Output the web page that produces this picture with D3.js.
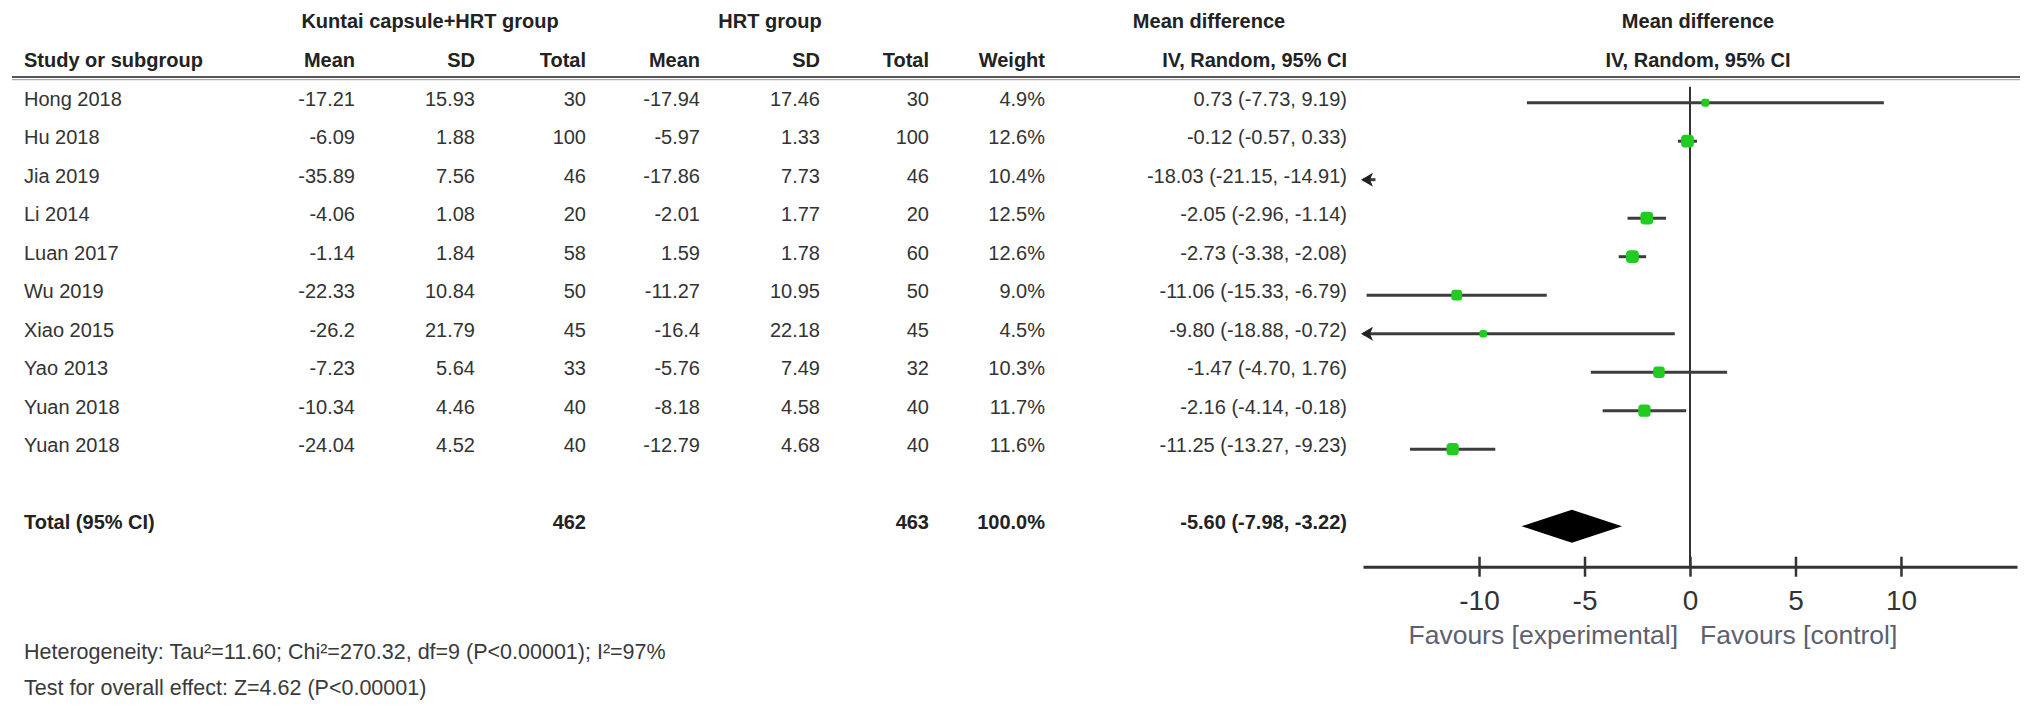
<!DOCTYPE html>
<html>
<head>
<meta charset="utf-8">
<script src="https://cdn.jsdelivr.net/npm/d3@7"></script>
<style>
  html, body { margin: 0; padding: 0; background: #ffffff; }
  svg { display: block; }
  text { font-family: "Liberation Sans", Arial, sans-serif; }
</style>
</head>
<body>
<svg id="chart" width="2032" height="713"></svg>
<script>
// ---------------- data ----------------
const studies   = ["Hong 2018","Hu 2018","Jia 2019","Li 2014","Luan 2017","Wu 2019","Xiao 2015","Yao 2013","Yuan 2018","Yuan 2018"];
const expMean   = [-17.21,-6.09,-35.89,-4.06,-1.14,-22.33,-26.2,-7.23,-10.34,-24.04];
const expSD     = [15.93,1.88,7.56,1.08,1.84,10.84,21.79,5.64,4.46,4.52];
const expTotal  = [30,100,46,20,58,50,45,33,40,40];
const ctlMean   = [-17.94,-5.97,-17.86,-2.01,1.59,-11.27,-16.4,-5.76,-8.18,-12.79];
const ctlSD     = [17.46,1.33,7.73,1.77,1.78,10.95,22.18,7.49,4.58,4.68];
const ctlTotal  = [30,100,46,20,60,50,45,32,40,40];
const weights   = [4.9,12.6,10.4,12.5,12.6,9.0,4.5,10.3,11.7,11.6];
const md        = [0.73,-0.12,-18.03,-2.05,-2.73,-11.06,-9.80,-1.47,-2.16,-11.25];
const ciLow     = [-7.73,-0.57,-21.15,-2.96,-3.38,-15.33,-18.88,-4.70,-4.14,-13.27];
const ciHigh    = [9.19,0.33,-14.91,-1.14,-2.08,-6.79,-0.72,1.76,-0.18,-9.23];
const totalLabel = "Total (95% CI)";
const totalExp = 462, totalCtl = 463, totalWeight = 100.0;
const totalMD = -5.60, totalLow = -7.98, totalHigh = -3.22;
const tickValues = [-10,-5,0,5,10];
const xDomain = [-15.5, 15.5];
const groupHeaders = ["Kuntai capsule+HRT group","HRT group","Mean difference","Mean difference"];
const colHeaders = ["Mean","SD","Total","Mean","SD","Total","Weight","IV, Random, 95% CI"];
const favours = ["Favours [experimental]","Favours [control]"];
const footer = ["Heterogeneity: Tau\u00b2=11.60; Chi\u00b2=270.32, df=9 (P<0.00001); I\u00b2=97%",
                "Test for overall effect: Z=4.62 (P<0.00001)"];

// ---------------- layout ----------------
const svg = d3.select("#chart");
const TXT = "#333333";
const colRight = [355, 475, 586, 700, 820, 929, 1045, 1347];
const studyX = 24;
const fs = 20;

const x = d3.scaleLinear().domain(xDomain).range([1363, 2017]);
const y = d3.scaleLinear().domain([0, 11]).range([102.7, 526.2]);
const axisY = 566.7;
const textOff = 3;

// group headers
const groupCenters = [430, 770, 1209, 1698];
svg.selectAll("text.gh").data(groupHeaders).join("text")
  .attr("class","gh")
  .attr("x",(d,i)=>groupCenters[i]).attr("y",28)
  .attr("text-anchor","middle").attr("font-weight","bold")
  .attr("font-size",fs).attr("fill","#222").text(d=>d);

// column headers
svg.append("text").attr("x",studyX).attr("y",67).attr("font-weight","bold")
  .attr("font-size",fs).attr("fill","#222").text("Study or subgroup");
svg.selectAll("text.ch").data(colHeaders).join("text")
  .attr("class","ch")
  .attr("x",(d,i)=>colRight[i]).attr("y",67)
  .attr("text-anchor","end").attr("font-weight","bold")
  .attr("font-size",fs).attr("fill","#222").text(d=>d);
svg.append("text").attr("x",1698).attr("y",67).attr("text-anchor","middle")
  .attr("font-weight","bold").attr("font-size",fs).attr("fill","#222")
  .text(colHeaders[7]);

// header rule (double)
svg.append("line").attr("x1",12).attr("x2",2020).attr("y1",77).attr("y2",77)
  .attr("stroke","#555").attr("stroke-width",2.2);
svg.append("line").attr("x1",12).attr("x2",2020).attr("y1",79.6).attr("y2",79.6)
  .attr("stroke","#aaa").attr("stroke-width",1.2);

// rows
const fmt2 = v => v.toFixed(2);
const rows = studies.map((s,i)=>[
  String(expMean[i]), String(expSD[i]), String(expTotal[i]),
  String(ctlMean[i]), String(ctlSD[i]), String(ctlTotal[i]),
  weights[i].toFixed(1)+"%",
  `${fmt2(md[i])} (${fmt2(ciLow[i])}, ${fmt2(ciHigh[i])})`
]);

const rowG = svg.selectAll("g.row").data(studies).join("g").attr("class","row");
rowG.append("text").attr("x",studyX).attr("y",(d,i)=>y(i)+textOff)
  .attr("font-size",fs).attr("fill",TXT).text(d=>d);
rowG.each(function(d,i){
  d3.select(this).selectAll("text.cell").data(rows[i]).join("text")
    .attr("class","cell")
    .attr("x",(v,j)=>colRight[j]).attr("y",y(i)+textOff)
    .attr("text-anchor","end").attr("font-size",fs).attr("fill",TXT).text(v=>v);
});

// total row
const tY = y(11)+textOff;
svg.append("text").attr("x",studyX).attr("y",tY).attr("font-weight","bold")
  .attr("font-size",fs).attr("fill","#222").text(totalLabel);
const totalCells = [[2,String(totalExp)],[5,String(totalCtl)],[6,totalWeight.toFixed(1)+"%"],
  [7,`${fmt2(totalMD)} (${fmt2(totalLow)}, ${fmt2(totalHigh)})`]];
svg.selectAll("text.tc").data(totalCells).join("text").attr("class","tc")
  .attr("x",d=>colRight[d[0]]).attr("y",tY).attr("text-anchor","end")
  .attr("font-weight","bold").attr("font-size",fs).attr("fill","#222").text(d=>d[1]);

// footer
svg.selectAll("text.ft").data(footer).join("text").attr("class","ft")
  .attr("x",studyX).attr("y",(d,i)=>[659,695][i])
  .attr("font-size",21.5).attr("fill","#3a3a3a").text(d=>d);

// ---------------- forest plot ----------------
const LINE = "#3d3d3d";
// zero line
svg.append("line").attr("x1",x(0)).attr("x2",x(0)).attr("y1",86.7).attr("y2",axisY)
  .attr("stroke","#333").attr("stroke-width",2);

const [dMin, dMax] = xDomain;
const plot = svg.append("g");
studies.forEach((s,i)=>{
  const yy = y(i);
  const l = Math.max(ciLow[i], dMin), h = Math.min(ciHigh[i], dMax);
  if (h > l) {
    plot.append("line").attr("x1",x(l)).attr("x2",x(h)).attr("y1",yy).attr("y2",yy)
      .attr("stroke",LINE).attr("stroke-width",3);
  }
  if (ciLow[i] < dMin) {
    const ax = x(dMin) - 2;
    plot.append("path")
      .attr("d",`M${ax},${yy} L${ax+12},${yy-7} L${ax+9},${yy} L${ax+12},${yy+7} Z`)
      .attr("fill","#222");
  }
  if (md[i] >= dMin && md[i] <= dMax) {
    const sz = 3.6*Math.sqrt(weights[i]);
    plot.append("rect").attr("x",x(md[i])-sz/2).attr("y",yy-sz/2)
      .attr("width",sz).attr("height",sz).attr("rx",sz*0.3)
      .attr("fill","#1fcc1f");
  }
});

// diamond
const dy = y(11);
plot.append("path")
  .attr("d",`M${x(totalLow)},${dy} L${x(totalMD)},${dy-16.5} L${x(totalHigh)},${dy} L${x(totalMD)},${dy+16.5} Z`)
  .attr("fill","#000");

// axis
const axis = d3.axisBottom(x).tickValues(tickValues).tickSizeOuter(0).tickSizeInner(10)
  .tickFormat(d3.format("d"));
const ag = svg.append("g").attr("transform",`translate(0,${axisY})`).call(axis);
ag.select(".domain").attr("stroke","#333").attr("stroke-width",3);
ag.selectAll(".tick line").attr("y1",-10).attr("y2",10).attr("stroke","#333").attr("stroke-width",2.5);
ag.selectAll(".tick text").attr("y",43).attr("dy",0)
  .attr("font-family","'Liberation Sans', Arial, sans-serif")
  .attr("font-size",28).attr("fill","#333")
  .text(d=>String(d).replace("\u2212","-"));

// favours labels
svg.append("text").attr("x",x(0)-12).attr("y",644).attr("text-anchor","end")
  .attr("font-size",26.5).attr("fill","#5c6070").text(favours[0]);
svg.append("text").attr("x",x(0)+10).attr("y",644).attr("text-anchor","start")
  .attr("font-size",26.5).attr("fill","#5c6070").text(favours[1]);
</script>
</body>
</html>
